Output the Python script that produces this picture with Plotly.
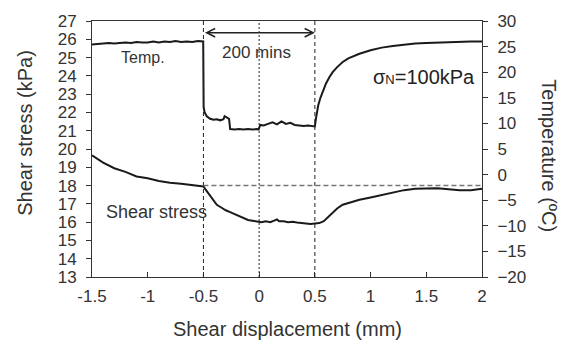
import plotly.graph_objects as go

# ---- data ----
shear_x = [-1.50, -1.45, -1.40, -1.30, -1.20, -1.10, -1.00, -0.90, -0.80, -0.70, -0.60, -0.50,
           -0.47, -0.44, -0.41, -0.38, -0.34, -0.30, -0.26, -0.22, -0.18, -0.14, -0.10, -0.06,
           -0.02, 0.02, 0.06, 0.10, 0.14, 0.16, 0.18, 0.22, 0.26, 0.30, 0.34, 0.38, 0.42, 0.46,
           0.50, 0.54, 0.58, 0.62, 0.66, 0.70, 0.75, 0.80, 0.90, 1.00, 1.10, 1.20, 1.30, 1.40,
           1.50, 1.60, 1.70, 1.80, 1.90, 2.00]
shear_kpa = [19.65, 19.45, 19.25, 18.95, 18.75, 18.50, 18.40, 18.25, 18.15, 18.10, 18.02, 17.95,
             17.70, 17.45, 17.15, 16.95, 16.80, 16.65, 16.55, 16.45, 16.35, 16.22, 16.12, 16.08,
             16.05, 16.00, 16.05, 16.00, 16.10, 16.15, 16.05, 16.05, 16.00, 16.02, 15.98, 15.95,
             15.92, 15.90, 15.93, 15.95, 16.05, 16.30, 16.55, 16.75, 16.95, 17.05, 17.22, 17.35,
             17.48, 17.60, 17.75, 17.82, 17.85, 17.85, 17.80, 17.75, 17.75, 17.82]

temp_x = [-1.50, -1.45, -1.40, -1.35, -1.30, -1.25, -1.20, -1.15, -1.10, -1.05, -1.00, -0.95,
          -0.90, -0.85, -0.80, -0.75, -0.70, -0.65, -0.60, -0.55, -0.502,
          -0.498, -0.49, -0.47, -0.44, -0.41, -0.38, -0.35, -0.32, -0.31, -0.29, -0.27, -0.26,
          -0.22, -0.18, -0.14, -0.10, -0.06, -0.02, -0.005, 0.01, 0.04, 0.08, 0.12, 0.16, 0.20,
          0.24, 0.28, 0.32, 0.36, 0.40, 0.44, 0.48, 0.50,
          0.51, 0.52, 0.53, 0.55, 0.57, 0.60, 0.63, 0.66, 0.70, 0.75, 0.80, 0.85, 0.90, 1.00,
          1.10, 1.20, 1.30, 1.40, 1.50, 1.60, 1.70, 1.80, 1.90, 2.00]
temp_c = [25.4, 25.5, 25.5, 25.7, 25.6, 25.7, 25.8, 25.7, 25.9, 25.8, 25.8, 26.0,
          25.8, 26.0, 25.9, 26.1, 25.9, 26.0, 25.9, 26.1, 26.0,
          13.2, 12.2, 11.4, 10.9, 10.7, 10.8, 10.6, 10.8, 11.4, 11.2, 10.9, 8.9,
          8.8, 8.9, 8.8, 8.9, 8.8, 8.9, 8.8, 9.7, 9.6, 9.9, 10.2, 9.8, 10.4,
          9.9, 10.1, 9.7, 9.6, 9.5, 9.6, 9.4, 9.4,
          11.0, 12.3, 13.5, 15.0, 16.3, 17.8, 19.0, 20.0, 21.0, 22.0, 22.7, 23.2, 23.6, 24.3,
          24.8, 25.1, 25.4, 25.6, 25.7, 25.8, 25.9, 25.9, 26.0, 26.0]

x_ticks = [-1.5, -1, -0.5, 0, 0.5, 1, 1.5, 2]
x_tick_text = ["-1.5", "-1", "-0.5", "0", "0.5", "1", "1.5", "2"]
phase_edges = [-0.5, 0.5]     # cooling period boundaries
mid_mark = 0.0
ref_shear = 18.0              # reference shear stress level
arrow_level = 26.36

FONT = "Liberation Sans, Arial, sans-serif"
TXT = "#333333"
AX = "#333333"

fig = go.Figure()
fig.add_trace(go.Scatter(x=shear_x, y=shear_kpa, mode="lines",
                         line=dict(color="#1a1a1a", width=2), yaxis="y", showlegend=False))
fig.add_trace(go.Scatter(x=temp_x, y=temp_c, mode="lines",
                         line=dict(color="#1a1a1a", width=2), yaxis="y2", showlegend=False))

shapes = []
for xe in phase_edges:
    shapes.append(dict(type="line", xref="x", yref="paper", x0=xe, x1=xe, y0=0, y1=1,
                       line=dict(color="#222", width=1, dash="4px,3px")))
shapes.append(dict(type="line", xref="x", yref="paper", x0=mid_mark, x1=mid_mark, y0=0, y1=1,
                   line=dict(color="#222", width=1, dash="2px,2px")))
shapes.append(dict(type="line", xref="x", yref="y", x0=phase_edges[0], x1=x_ticks[-1],
                   y0=ref_shear, y1=ref_shear,
                   line=dict(color="#777", width=1.5, dash="5px,3px")))

annotations = [
    dict(x=phase_edges[1], y=arrow_level, ax=phase_edges[0], ay=arrow_level,
         xref="x", yref="y", axref="x", ayref="y", text="", showarrow=True,
         arrowhead=5, startarrowhead=5, arrowside="end+start", arrowwidth=1.5,
         arrowsize=1.1, startarrowsize=1.1, arrowcolor="#222", standoff=0, startstandoff=0),
    dict(x=-1.038, y=25.0, xref="x", yref="y", text="Temp.", showarrow=False,
         font=dict(family=FONT, size=16, color=TXT)),
    dict(x=-0.02, y=25.28, xref="x", yref="y", text="200 mins", showarrow=False,
         font=dict(family=FONT, size=17, color=TXT)),
    dict(x=1.955, y=23.94, xref="x", yref="y", xanchor="right",
         text="σ<span style='font-size:13px'>N</span>=100kPa", showarrow=False,
         font=dict(family=FONT, size=20, color="#222")),
    dict(x=-0.92, y=16.54, xref="x", yref="y", text="Shear stress", showarrow=False,
         font=dict(family=FONT, size=18, color=TXT)),
    dict(x=-0.172, y=0.563, xref="paper", yref="paper", xanchor="center", yanchor="middle",
         text="Shear stress (kPa)", textangle=-90, showarrow=False,
         font=dict(family=FONT, size=20, color=TXT)),
    dict(x=1.172, y=0.475, xref="paper", yref="paper", xanchor="center", yanchor="middle",
         text="Temperature (ºC)", textangle=90, showarrow=False,
         font=dict(family=FONT, size=20, color=TXT)),
    dict(x=0.5, y=-0.205, xref="paper", yref="paper", xanchor="center", yanchor="middle",
         text="Shear displacement (mm)", showarrow=False,
         font=dict(family=FONT, size=20, color=TXT)),
]

fig.update_layout(
    width=565, height=344,
    margin=dict(l=92, r=83, t=16, b=67),
    paper_bgcolor="white", plot_bgcolor="white",
    font=dict(family=FONT, color=TXT),
    shapes=shapes, annotations=annotations,
    xaxis=dict(range=[-1.5, 2], tickvals=x_ticks, ticktext=x_tick_text,
               showline=True, linecolor=AX, linewidth=1, mirror=True,
               ticks="inside", ticklen=5, tickcolor=AX, showgrid=False, zeroline=False,
               tickfont=dict(family=FONT, size=17, color=TXT), ticklabelstandoff=4),
    yaxis=dict(range=[13, 27], dtick=1, showline=True, linecolor=AX, linewidth=1,
               ticks="outside", ticklen=5, tickcolor=AX, showgrid=False, zeroline=False,
               tickfont=dict(family=FONT, size=17, color=TXT), ticklabelstandoff=6),
    yaxis2=dict(range=[-20, 30], dtick=5, overlaying="y", side="right",
                showline=True, linecolor=AX, linewidth=1,
                ticks="outside", ticklen=5, tickcolor=AX, showgrid=False, zeroline=False,
                tickfont=dict(family=FONT, size=17, color=TXT), ticklabelstandoff=6),
)

fig.write_html("out.html")
